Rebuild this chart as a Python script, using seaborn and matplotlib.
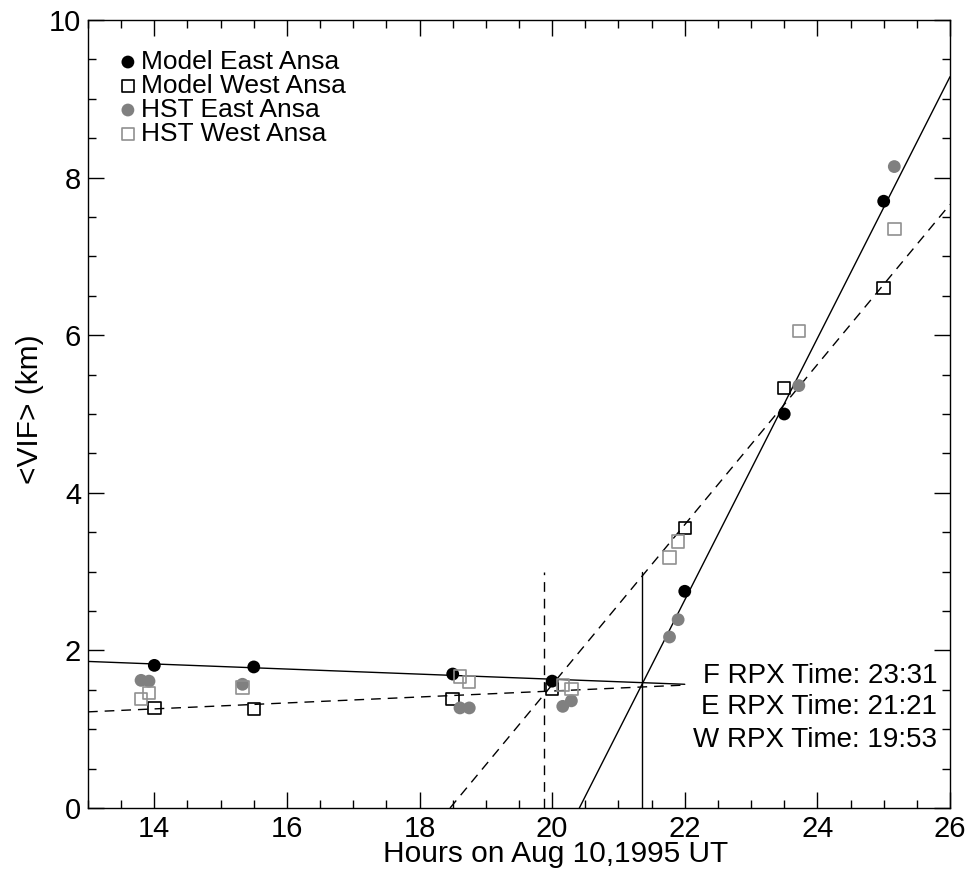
import numpy as np
import pandas as pd
import seaborn as sns
import matplotlib.pyplot as plt
from matplotlib.ticker import MultipleLocator

# data (hours UT, <VIF> in km)
model_hr = [14.0, 15.5, 18.5, 20.0, 22.0, 23.5, 25.0]
model_east_vif = [1.81, 1.79, 1.70, 1.61, 2.75, 5.00, 7.70]
model_west_vif = [1.27, 1.26, 1.38, 1.51, 3.55, 5.33, 6.60]

hst_hr = [13.80, 13.92, 15.33, 18.61, 18.75, 20.16, 20.29, 21.77, 21.90, 23.72, 25.16]
hst_east_vif = [1.62, 1.61, 1.57, 1.27, 1.27, 1.29, 1.36, 2.17, 2.39, 5.36, 8.14]
hst_west_vif = [1.38, 1.46, 1.53, 1.67, 1.60, 1.56, 1.51, 3.18, 3.38, 6.05, 7.35]

# fitted lines (endpoints in data units)
east_pre_hr, east_pre_vif = [13.0, 22.0], [1.86, 1.57]
west_pre_hr, west_pre_vif = [13.0, 22.0], [1.22, 1.56]
east_post_hr, east_post_vif = [20.41, 26.0], [0.0, 9.28]
west_post_hr, west_post_vif = [18.46, 26.0], [0.0, 7.66]

# ring plane crossing times (hours) and marker heights
west_rpx_hr = 19 + 53 / 60
east_rpx_hr = 21 + 21 / 60
rpx_height = 3.0
rpx_labels = ["F RPX Time: 23:31", "E RPX Time: 21:21", "W RPX Time: 19:53"]

sns.set_style("ticks")
plt.rcParams["font.family"] = ["Liberation Sans", "DejaVu Sans"]
plt.rcParams.update({"text.color": "black", "axes.labelcolor": "black",
                     "xtick.color": "black", "ytick.color": "black"})

fig = plt.figure(figsize=(9.77, 8.77), dpi=100)
ax = fig.add_axes([88 / 977, 1 - 808 / 877, 862 / 977, 788 / 877])

dash = (0, (7, 5))
line_kw = dict(color="black", linewidth=1.0, estimator=None, sort=False, ax=ax)
sns.lineplot(x=east_pre_hr, y=east_pre_vif, **line_kw)
sns.lineplot(x=west_pre_hr, y=west_pre_vif, linestyle=dash, **line_kw)
sns.lineplot(x=east_post_hr, y=east_post_vif, **line_kw)
sns.lineplot(x=west_post_hr, y=west_post_vif, linestyle=dash, **line_kw)
sns.lineplot(x=[east_rpx_hr, east_rpx_hr], y=[0, rpx_height], **line_kw)
sns.lineplot(x=[west_rpx_hr, west_rpx_hr], y=[0, rpx_height], linestyle=dash, **line_kw)

grey = "#808080"
sns.scatterplot(x=model_hr, y=model_east_vif, marker="o", s=85, color="black",
                edgecolor="none", linewidth=0, label="Model East Ansa", ax=ax, zorder=3)
sns.scatterplot(x=model_hr, y=model_west_vif, marker="s", s=80, facecolor="none",
                edgecolor="black", linewidth=1.2, label="Model West Ansa", ax=ax, zorder=3)
sns.scatterplot(x=hst_hr, y=hst_east_vif, marker="o", s=85, color=grey,
                edgecolor="none", linewidth=0, label="HST East Ansa", ax=ax, zorder=3)
sns.scatterplot(x=hst_hr, y=hst_west_vif, marker="s", s=80, facecolor="none",
                edgecolor="#909090", linewidth=1.2, label="HST West Ansa", ax=ax, zorder=3)

ax.set_xlim(13, 26)
ax.set_ylim(0, 10)
ax.xaxis.set_major_locator(MultipleLocator(2))
ax.xaxis.set_minor_locator(MultipleLocator(0.5))
ax.yaxis.set_major_locator(MultipleLocator(2))
ax.yaxis.set_minor_locator(MultipleLocator(0.5))
ax.tick_params(which="both", direction="in", top=True, right=True, color="black", width=1.0)
ax.tick_params(which="major", length=11.5, labelsize=21, pad=5, labelcolor="black")
ax.tick_params(which="minor", length=5.8)
for sp in ax.spines.values():
    sp.set_visible(True)
    sp.set_color("black")
    sp.set_linewidth(1.0)

ax.set_xlabel("Hours on Aug 10,1995 UT", fontsize=21.5)
ax.set_ylabel("<VIF> (km)", fontsize=21.5)
ax.xaxis.set_label_coords((556 - 88) / 862, -0.041)
ax.yaxis.set_label_coords((44 - 88) / 862, 0.506)

for lbl, yb in zip(rpx_labels, [0.159, 0.119, 0.078]):
    ax.text(0.985, yb, lbl, transform=ax.transAxes, ha="right", va="baseline", fontsize=20)

ax.legend(loc="upper left", bbox_to_anchor=(0.0394, 0.962), frameon=False, fontsize=19,
          handlelength=0.45, handletextpad=0.27, labelspacing=0.0, borderpad=0,
          borderaxespad=0, scatterpoints=1)

fig.savefig("out.png", dpi=100)
